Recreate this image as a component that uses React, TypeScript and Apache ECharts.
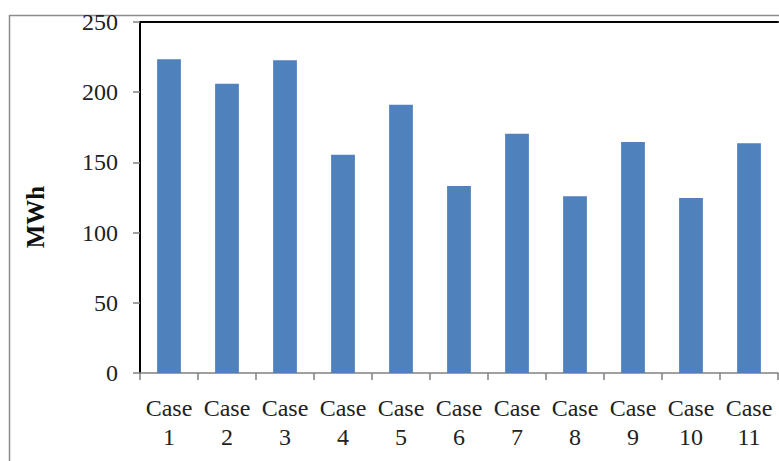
import React, { useEffect, useRef } from "react";
import * as echarts from "echarts";

const categories: string[] = [
  "Case\n1", "Case\n2", "Case\n3", "Case\n4", "Case\n5", "Case\n6",
  "Case\n7", "Case\n8", "Case\n9", "Case\n10", "Case\n11",
];
const values: number[] = [223.4, 206, 222.7, 155.5, 191, 133.2, 170.4, 125.9, 164.5, 124.6, 163.6];
const yTicks = { min: 0, max: 250, interval: 50 };
const yTitle = "MWh";

const FONT = "'Liberation Serif', 'Times New Roman', serif";

export default function App() {
  const ref = useRef<HTMLDivElement>(null);
  useEffect(() => {
    document.body.style.margin = "0";
    if (!ref.current) return;
    const chart = echarts.init(ref.current, undefined, { renderer: "svg" });
    chart.setOption({
      animation: false,
      backgroundColor: "#ffffff",
      grid: { left: 140, top: 22, width: 638, height: 351, containLabel: false },
      xAxis: [
        {
          type: "category",
          data: categories,
          position: "bottom",
          axisLine: { show: true, lineStyle: { color: "#808080", width: 1.5 } },
          axisTick: { show: true, length: 7, alignWithLabel: false, lineStyle: { color: "#808080", width: 1.5 } },
          axisLabel: {
            interval: 0,
            margin: 20,
            fontFamily: FONT,
            fontSize: 24,
            lineHeight: 29,
            color: "#222222",
          },
          splitLine: { show: false },
        },
        {
          type: "category",
          data: categories,
          position: "top",
          axisLine: { show: true, lineStyle: { color: "#000000", width: 2 } },
          axisTick: { show: false },
          axisLabel: { show: false },
          splitLine: { show: false },
        },
      ],
      yAxis: {
        type: "value",
        min: yTicks.min,
        max: yTicks.max,
        interval: yTicks.interval,
        axisLine: { show: true, lineStyle: { color: "#000000", width: 2 } },
        axisTick: { show: true, length: 7, lineStyle: { color: "#808080", width: 1.5 } },
        axisLabel: { margin: 22, fontFamily: FONT, fontSize: 24, color: "#222222" },
        splitLine: { show: false },
      },
      graphic: [
        {
          type: "rect",
          left: 7,
          top: 13,
          shape: { x: 0, y: 0, width: 771, height: 470 },
          style: { fill: "none", stroke: "#8c8c8c", lineWidth: 1.5 },
          silent: true,
          z: -1,
        },
        {
          type: "text",
          x: 35,
          y: 217,
          rotation: Math.PI / 2,
          style: {
            text: yTitle,
            font: `bold 25px ${FONT}`,
            fill: "#111111",
            textAlign: "center",
            textVerticalAlign: "middle",
          },
        },
      ],
      series: [
        {
          type: "bar",
          data: values,
          barCategoryGap: "59%",
          itemStyle: { color: "#4F81BD" },
        },
      ],
    });
    return () => chart.dispose();
  }, []);
  return <div ref={ref} style={{ width: 779, height: 461 }} />;
}
